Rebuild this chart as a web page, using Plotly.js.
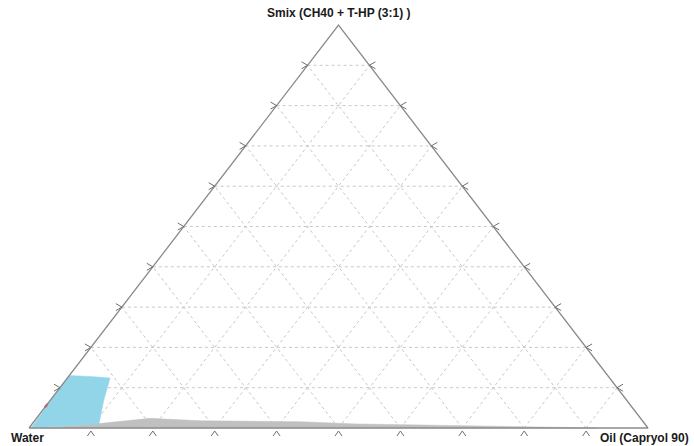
<!DOCTYPE html>
<html>
<head>
<meta charset="utf-8">
<script src="https://cdn.plot.ly/plotly-3.0.1.min.js"></script>
<style>html,body{margin:0;padding:0;background:#fff;}#chart{width:694px;height:446px;}</style>
</head>
<body>
<div id="chart"></div>
<script>
// Ternary data: fractions of Oil and Smix (Water = 1 - Oil - Smix)
const gridLevels = [0.1, 0.2, 0.3, 0.4, 0.5, 0.6, 0.7, 0.8, 0.9];
const vertexLabels = ["Smix (CH40 + T-HP (3:1) )", "Water", "Oil (Capryol 90)"];

// Gray region (region boundary)
const grayOil  = [0.018, 0.108, 0.1835, 0.267, 0.43, 0.525, 0.633, 0.742, 0.873, 0.918, 0.018];
const graySmix = [0.000, 0.011, 0.024, 0.018, 0.0156, 0.010, 0.0074, 0.005, 0.0025, 0.000, 0.000];

// Blue region (microemulsion area)
const blueOil  = [0.003, 0.000, 0.035, 0.069, 0.086, 0.108, 0.003];
const blueSmix = [0.000, 0.130, 0.128, 0.124, 0.070, 0.010, 0.000];

// Small red segment on Water-Smix edge
const redOil  = [0.000, 0.000];
const redSmix = [0.051, 0.060];

// pixel units in data space
const PX = 1 / 619, PY = 1 / 403;
function cx(oil, smix) { return oil + smix / 2; }
function mapX(o, s) { return o.map((v, i) => cx(v, s[i])); }

const traces = [];

// grid lines
const gx = [], gy = [];
gridLevels.forEach(f => {
  gx.push(cx(0, f), cx(1 - f, f), null); gy.push(f, f, null);
  gx.push(cx(f, 0), cx(f, 1 - f), null); gy.push(0, 1 - f, null);
  gx.push(cx(1 - f, 0), cx(0, 1 - f), null); gy.push(0, 1 - f, null);
});
traces.push({x: gx, y: gy, mode: 'lines', line: {color: '#c8c8c8', width: 1, dash: '3px,3px'}, hoverinfo: 'skip'});

// regions
traces.push({x: mapX(grayOil, graySmix), y: graySmix, mode: 'lines', fill: 'toself', fillcolor: '#c0c0c0', line: {color: '#c0c0c0', width: 0.5}, hoverinfo: 'skip'});
traces.push({x: mapX(blueOil, blueSmix), y: blueSmix, mode: 'lines', fill: 'toself', fillcolor: '#93d5e8', line: {color: '#93d5e8', width: 0.5}, hoverinfo: 'skip'});
traces.push({x: mapX(redOil, redSmix), y: redSmix, mode: 'lines', line: {color: '#e8202a', width: 2}, hoverinfo: 'skip'});

// triangle outline
traces.push({x: [cx(0, 0), cx(1, 0), cx(0, 1), cx(0, 0)], y: [0, 0, 1, 0], mode: 'lines', line: {color: '#8a8a8a', width: 1.3}, hoverinfo: 'skip'});

// tick chevrons
const tx = [], ty = [];
gridLevels.forEach(f => {
  const bx = cx(f, 0);
  tx.push(bx - 3.5 * PX, bx, bx + 3.5 * PX, null); ty.push(-8 * PY, -3 * PY, -8 * PY, null);
  const lx = cx(0, f);
  tx.push(lx - 6 * PX, lx, lx - 6 * PX, null); ty.push(f + 3.5 * PY, f, f - 3.5 * PY, null);
  const rx = cx(1 - f, f);
  tx.push(rx + 6 * PX, rx, rx + 6 * PX, null); ty.push(f + 3.5 * PY, f, f - 3.5 * PY, null);
});
traces.push({x: tx, y: ty, mode: 'lines', line: {color: '#6e6e6e', width: 1}, hoverinfo: 'skip'});

const font = {family: 'Liberation Sans, Arial, sans-serif', size: 12, color: '#1a1a1a'};
const layout = {
  width: 694, height: 446,
  margin: {l: 0, r: 0, t: 0, b: 0},
  paper_bgcolor: '#ffffff', plot_bgcolor: '#ffffff',
  showlegend: false,
  xaxis: {range: [-29 / 619, 665 / 619], visible: false, fixedrange: true},
  yaxis: {range: [-18 / 403, 428 / 403], visible: false, fixedrange: true},
  annotations: [
    {x: cx(0, 1), y: 1, xref: 'x', yref: 'y', text: '<b>' + vertexLabels[0] + '</b>', showarrow: false, xanchor: 'center', yanchor: 'bottom', yshift: 3, font: font},
    {x: 9 / 694, y: 8 / 446, xref: 'paper', yref: 'paper', text: '<b>' + vertexLabels[1] + '</b>', showarrow: false, xanchor: 'left', yanchor: 'middle', font: font},
    {x: 598 / 694, y: 8 / 446, xref: 'paper', yref: 'paper', text: '<b>' + vertexLabels[2] + '</b>', showarrow: false, xanchor: 'left', yanchor: 'middle', font: font}
  ]
};

Plotly.newPlot('chart', traces, layout, {displayModeBar: false, staticPlot: true});
</script>
</body>
</html>
